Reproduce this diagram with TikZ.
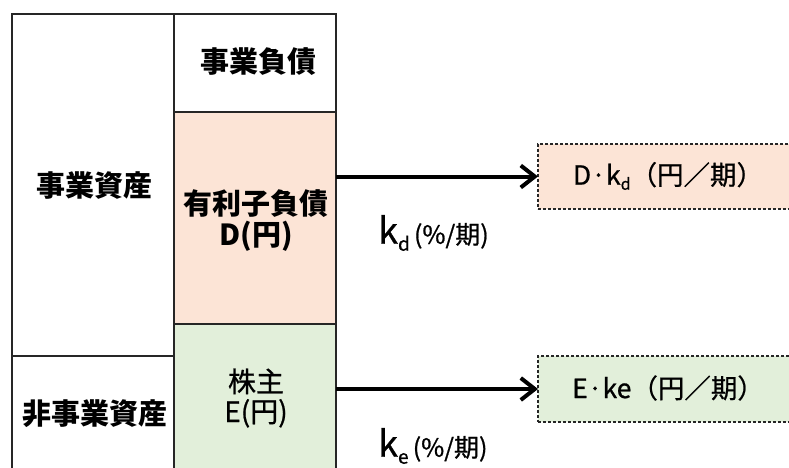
\documentclass[tikz,border=0pt]{standalone}
\usepackage{fontspec}
\setmainfont{Noto Sans CJK JP}
\newfontfamily\jpmed{Noto Sans CJK JP}[FakeBold=0.8]
\usetikzlibrary{arrows.meta}
\definecolor{linec}{HTML}{262626}
\definecolor{pinkf}{HTML}{FCE4D6}
\definecolor{greenf}{HTML}{E2EFDA}
\tikzset{
  x=1pt, y=-1pt,
  cell/.style={draw=linec, line width=1.5pt, inner sep=0pt, outer sep=0pt, anchor=north west},
  blabel/.style={font=\fontsize{29}{31}\selectfont\bfseries, align=center, inner sep=0pt},
  nlabel/.style={font=\fontsize{28}{30}\selectfont\jpmed, align=center, inner sep=0pt},
  resbox/.style={draw=linec, line width=1.3pt, dash pattern=on 3pt off 2pt, inner sep=0pt, outer sep=0pt},
  restext/.style={font=\fontsize{26.5}{30}\selectfont\jpmed, inner sep=0pt},
  ratetext/.style={font=\jpmed, inner sep=0pt, anchor=west},
  flow/.style={line width=4pt, draw=black, -{Straight Barb[length=14pt,width=22pt]}},
}
\begin{document}
\begin{tikzpicture}
\useasboundingbox (0,0) rectangle (789,468);
\clip (0,0) rectangle (789,468);
% left column
\node[cell, minimum width=162pt, minimum height=342pt] (opa) at (12,14) {};
\node[cell, minimum width=162pt, minimum height=140pt] (nopa) at (12,356) {};
% middle column
\node[cell, minimum width=162pt, minimum height=98pt] (opl) at (174,14) {};
\node[cell, fill=pinkf, minimum width=162pt, minimum height=212pt] (debt) at (174,112) {};
\node[cell, fill=greenf, minimum width=162pt, minimum height=170pt] (eq) at (174,324) {};
% labels
\node[blabel] (topl) at (258,62) {事業負債};
\node[blabel] (topa) at (94,186) {事業資産};
\node[blabel] (tdebt) at (256,221) {有利子負債\\D(円)};
\node[blabel] (tnopa) at (95,414) {非事業資産};
\node[nlabel] (teq) at (256,398) {株主\\E(円)};
% result boxes
\node[resbox, fill=pinkf, minimum width=260pt, minimum height=65pt] (rd) at (668,176.5) {};
\node[resbox, fill=greenf, minimum width=260pt, minimum height=66pt] (re) at (668,389) {};
\node[restext] (trd) at (668,176) {D·k\raisebox{-5pt}{\fontsize{16}{16}\selectfont d}（円／期）};
\node[restext] (tre) at (668,388) {E·ke（円／期）};
% arrows
\coordinate (sd) at (336,176.5);
\coordinate (se) at (336,389);
\draw[flow] (sd) -- (rd.west);
\draw[flow] (se) -- (re.west);
% rate labels
\node[ratetext] (kd) at (378,233) {{\fontsize{36}{36}\selectfont k}\raisebox{-7pt}{\fontsize{19}{19}\selectfont d}{\fontsize{25}{25}\selectfont \,(\%/期)}};
\node[ratetext] (ke) at (378,446) {{\fontsize{36}{36}\selectfont k}\raisebox{-7pt}{\fontsize{19}{19}\selectfont e}{\fontsize{25}{25}\selectfont \,(\%/期)}};
\end{tikzpicture}
\end{document}
